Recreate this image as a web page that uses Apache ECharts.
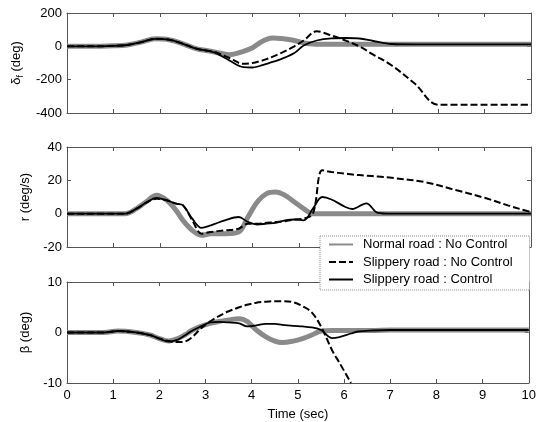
<!DOCTYPE html>
<html>
<head>
<meta charset="utf-8">
<script src="https://cdn.jsdelivr.net/npm/echarts@6/dist/echarts.min.js"></script>
<style>
  html, body { margin: 0; padding: 0; background: #fff; }
  #chart { width: 539px; height: 422px; }
</style>
</head>
<body>
<div id="chart"></div>
<script>
// steering angle, yaw rate, side slip vs time

const seriesNames = ['Normal road : No Control', 'Slippery road : No Control', 'Slippery road : Control'];

// delta_f (deg)
const tDelta = [0, 0.5, 1.0, 1.3, 1.6, 1.9, 2.2, 2.5, 2.8, 3.0, 3.2, 3.5, 3.8, 4.0, 4.15, 4.3, 4.45, 4.6, 4.9, 5.1, 5.38, 5.7, 6.0, 6.3, 6.6, 7.0, 7.5, 8.0, 9.0, 10];
const deltaNormal = [0, 0, 3, 8, 25, 45, 40, 15, -15, -25, -35, -50, -30, -8, 20, 42, 50, 47, 35, 20, 13, 12, 12, 12, 12, 12, 12, 12, 12, 12];
const deltaSlipNoCtrl = [0, 0, 3, 8, 25, 45, 40, 15, -15, -25, -35, -70, -105, -100, -90, -77, -60, -42, 0, 35, 90, 65, 35, 0, -50, -115, -225, -350, -350, -350];
const deltaSlipCtrl = [0, 0, 3, 8, 25, 45, 40, 15, -15, -25, -40, -85, -125, -127, -118, -105, -92, -78, -40, 5, 35, 48, 50, 47, 32, 14, 12, 12, 12, 12];

// r (deg/s)
const tYaw = [0, 1.0, 1.25, 1.5, 1.7, 1.93, 2.15, 2.35, 2.5, 2.7, 2.9, 3.1, 3.4, 3.7, 3.9, 4.1, 4.3, 4.5, 4.7, 4.9, 5.1, 5.3, 5.5, 5.7, 6.0, 6.15, 6.45, 6.7, 7.0, 7.7, 8.4, 9.0, 9.5, 9.8, 10];
const yawNormal = [0, 0, 0, 3, 7, 11, 8, 2, -4, -10, -13, -12, -12, -11, -2, 7, 12, 13, 11, 7, 3, 0, 0, 0, 0, 0, 0, 0, 0, 0, 0, 0, 0, 0, 0];
const yawSlipNoCtrl = [0, 0, 0, 3, 6.5, 9, 8, 6, 5, -4, -12, -11, -10, -9, -6, -6, -5.5, -5, -4.5, -3.5, -3, 0, 26, 25, 24, 23.5, 22.8, 22.3, 21.5, 19, 14, 9.5, 5, 2.5, 1];
const yawSlipCtrl = [0, 0, 0, 3, 6.5, 9.5, 8, 6, 5, -3, -8.5, -7, -4, -2, -5, -6.5, -6, -5.5, -4, -3.5, -4, 3, 10, 8.5, 4, 2.8, 6.2, 0.5, 0, 0, 0, 0, 0, 0, 0];

// beta (deg)
const tBeta = [0, 0.8, 1.1, 1.5, 1.8, 2.0, 2.2, 2.4, 2.55, 2.7, 2.9, 3.1, 3.3, 3.5, 3.73, 3.9, 4.1, 4.3, 4.5, 4.66, 4.9, 5.1, 5.3, 5.5, 5.74, 5.9, 6.15, 6.3, 6.6, 7, 8, 9, 10];
const betaNormal = [0, 0, 0.3, 0, -0.5, -1.2, -1.7, -1.2, -0.5, 0.4, 1.2, 1.8, 2.2, 2.5, 2.7, 2.2, 0.5, -0.8, -1.7, -2, -1.7, -1.2, -0.5, 0.3, 0.4, 0.4, 0.4, 0.4, 0.4, 0.5, 0.5, 0.5, 0.5];
const betaSlipNoCtrl = [0, 0, 0.3, 0, -0.5, -1.2, -1.7, -1.9, -1.8, -1.0, 0.8, 2.2, 3.3, 4.2, 5, 5.5, 5.9, 6.1, 6.2, 6.2, 6.0, 5.2, 4.0, 1.2, -3.5, -6, -10];
const betaSlipCtrl = [0, 0, 0.3, 0, -0.5, -1.2, -1.8, -1.4, -0.6, 0.3, 1.2, 2, 2.1, 2, 1.8, 1.2, 1.4, 1.7, 1.7, 1.5, 1.3, 1.2, 1.0, 0.5, -1.1, -0.9, -0.2, 0.2, 0.4, 0.5, 0.5, 0.5, 0.5];

const xTicks = [0, 1, 2, 3, 4, 5, 6, 7, 8, 9, 10];

const font = 'Liberation Sans, Arial, sans-serif';
const chart = echarts.init(document.getElementById('chart'));

function pairs(t, v) {
  return v.map((y, i) => [t[i], y]);
}

const grids = [
  { left: 67, right: 8, top: 13, height: 100 },
  { left: 67, right: 8, top: 147, height: 100 },
  { left: 67, right: 8, top: 282, height: 101 }
];

const axisLine = { show: true, onZero: false, lineStyle: { color: '#555', width: 1 } };
const tick = { show: true, inside: true, length: 4, lineStyle: { color: '#555' } };
const tickLabel = { color: '#000', fontSize: 13, fontFamily: font };

let xAxes = [], yAxes = [];
const yRanges = [[-400, 200, 200], [-20, 40, 20], [-10, 10, 10]];
const yNames = ['{n|δ}{s|f}{n| (deg)}', 'r (deg/s)', 'β (deg)'];
const yGaps = [40, 30, 31];

grids.forEach((g, i) => {
  const last = i === grids.length - 1;
  xAxes.push({
    gridIndex: i, type: 'value', min: xTicks[0], max: xTicks[xTicks.length - 1], interval: 1,
    position: 'bottom', axisLine, axisTick: tick, splitLine: { show: false },
    axisLabel: Object.assign({ show: last, margin: 6 }, tickLabel),
    name: last ? 'Time (sec)' : '', nameLocation: 'middle', nameGap: 25,
    nameTextStyle: { color: '#000', fontSize: 13, fontFamily: font }
  });
  xAxes.push({
    gridIndex: i, type: 'value', min: 0, max: 10, interval: 1, position: 'top',
    axisLine, axisTick: tick, axisLabel: { show: false }, splitLine: { show: false }
  });
  const [mn, mx, iv] = yRanges[i];
  yAxes.push({
    gridIndex: i, type: 'value', min: mn, max: mx, interval: iv, position: 'left',
    axisLine, axisTick: tick, splitLine: { show: false },
    axisLabel: Object.assign({ margin: 5 }, tickLabel),
    name: yNames[i], nameLocation: 'middle', nameRotate: 90, nameGap: yGaps[i],
    nameTextStyle: {
      color: '#000', fontSize: 13, fontFamily: font,
      rich: {
        n: { fontSize: 13, fontFamily: font, color: '#000' },
        s: { fontSize: 9, fontFamily: font, color: '#000', padding: [8, 0, 0, 0] }
      }
    }
  });
  yAxes.push({
    gridIndex: i, type: 'value', min: mn, max: mx, interval: iv, position: 'right',
    axisLine, axisTick: tick, axisLabel: { show: false }, splitLine: { show: false }
  });
});

const plotData = [
  [pairs(tDelta, deltaNormal), pairs(tDelta, deltaSlipNoCtrl), pairs(tDelta, deltaSlipCtrl)],
  [pairs(tYaw, yawNormal), pairs(tYaw, yawSlipNoCtrl), pairs(tYaw, yawSlipCtrl)],
  [pairs(tBeta, betaNormal), pairs(tBeta, betaSlipNoCtrl), pairs(tBeta, betaSlipCtrl)]
];

const styles = [
  { color: '#8a8a8a', width: 5, type: 'solid' },
  { color: '#000', width: 2, type: [7, 3] },
  { color: '#000', width: 1.8, type: 'solid' }
];

let series = [];
plotData.forEach((set, gi) => {
  set.forEach((d, si) => {
    series.push({
      name: seriesNames[si], type: 'line', xAxisIndex: gi * 2, yAxisIndex: gi * 2,
      data: d, showSymbol: false, symbol: 'none', smooth: 0.35, clip: true,
      lineStyle: styles[si], itemStyle: { color: styles[si].color }, z: 2 + si
    });
  });
});

chart.setOption({
  animation: false,
  backgroundColor: '#fff',
  grid: grids,
  xAxis: xAxes,
  yAxis: yAxes,
  legend: {
    data: seriesNames, orient: 'vertical', left: 320, top: 236,
    padding: [2, 17, 4, 8], itemGap: 4.5, itemWidth: 24, itemHeight: 14,
    backgroundColor: '#fff', borderColor: '#888', borderWidth: 1, borderType: 'dotted',
    itemStyle: { color: 'transparent', borderColor: 'transparent', borderWidth: 0, opacity: 0 },
    textStyle: { color: '#000', fontSize: 13, fontFamily: font, padding: [0, 0, 0, 5] },
    z: 10
  },
  series
});
</script>
</body>
</html>
